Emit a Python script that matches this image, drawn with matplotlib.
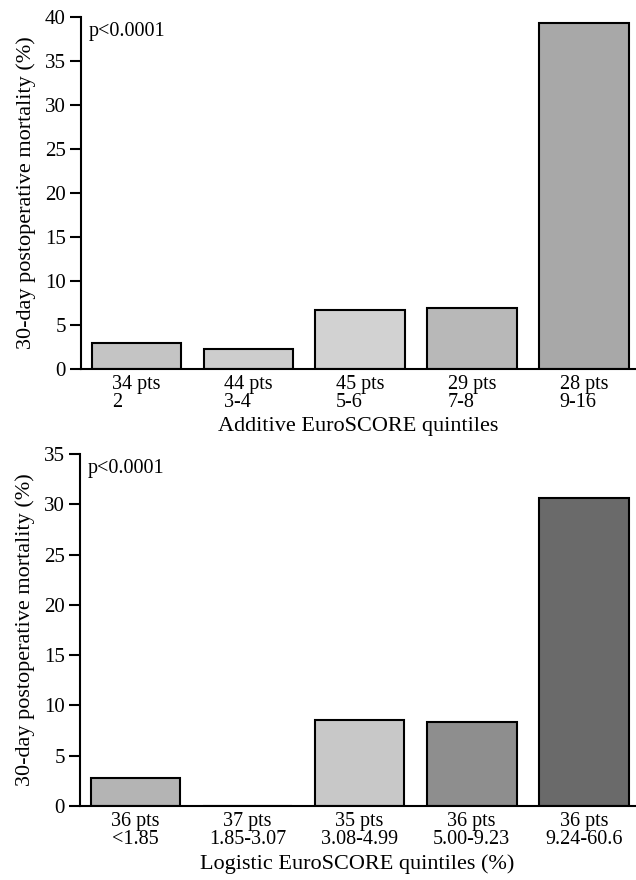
import matplotlib.pyplot as plt
import numpy as np

# Additive EuroSCORE quintiles
add_groups = ['2', '3-4', '5-6', '7-8', '9-16']
add_pts = [34, 44, 45, 29, 28]
add_mort = [2.9, 2.3, 6.7, 6.9, 39.3]
add_shade = ['#c4c4c4', '#cdcdcd', '#d2d2d2', '#b8b8b8', '#a8a8a8']

# Logistic EuroSCORE quintiles
log_groups = ['<1.85', '1.85-3.07', '3.08-4.99', '5.00-9.23', '9.24-60.6']
log_pts = [36, 37, 35, 36, 36]
log_mort = [2.78, 0.0, 8.57, 8.33, 30.6]
log_shade = ['#b4b4b4', '#ffffff', '#c8c8c8', '#8e8e8e', '#6a6a6a']

plt.rcParams['font.family'] = ['Liberation Serif', 'DejaVu Serif']

fig = plt.figure(figsize=(6.36, 8.8), dpi=100)


def draw_panel(ax, groups, pts, mort, shades, ymax, xlabel, multialign):
    x = np.arange(len(groups))
    ax.bar(x, mort, width=0.8, color=shades, edgecolor='black', linewidth=1.5)
    ax.set_xlim(-0.495, 4.46)
    ax.set_ylim(0, ymax)
    ax.set_yticks(np.arange(0, ymax + 1, 5))
    labels = [f'{p} pts\n{g}' for p, g in zip(pts, groups)]
    ax.set_xticks(x)
    ax.set_xticklabels(labels, fontsize=14.5, linespacing=0.95,
                       multialignment=multialign)
    ax.tick_params(axis='x', length=0, pad=4)
    ax.tick_params(axis='y', length=8, width=1.5, direction='out',
                   labelsize=15, pad=3)
    for s in ['top', 'right']:
        ax.spines[s].set_visible(False)
    for s in ['left', 'bottom']:
        ax.spines[s].set_linewidth(1.5)
    ax.set_ylabel('30-day postoperative mortality (%)', fontsize=16, labelpad=6)
    ax.set_xlabel(xlabel, fontsize=16, labelpad=4)
    ax.text(0.014, 0.985, 'p<0.0001', transform=ax.transAxes,
            fontsize=14.5, va='top', ha='left')


ax1 = fig.add_axes([0.1274, 0.5807, 0.8716, 0.4])
draw_panel(ax1, add_groups, add_pts, add_mort, add_shade, 40,
           'Additive EuroSCORE quintiles', 'left')

ax2 = fig.add_axes([0.1258, 0.0841, 0.8732, 0.4])
draw_panel(ax2, log_groups, log_pts, log_mort, log_shade, 35,
           'Logistic EuroSCORE quintiles (%)', 'center')

fig.savefig('out.png', dpi=100)
